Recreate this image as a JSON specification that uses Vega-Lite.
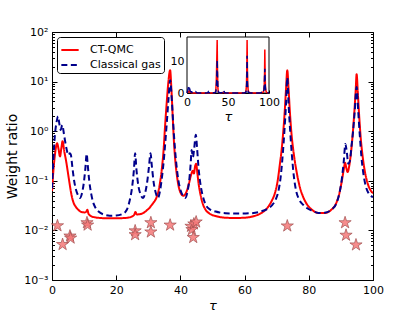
{
  "$schema": "https://vega.github.io/schema/vega-lite/v6.json",
  "width": 321,
  "height": 248,
  "autosize": "none",
  "padding": {"left": 52, "top": 32, "right": 42, "bottom": 32},
  "background": "white",
  "config": {
    "font": "DejaVu Sans",
    "view": {"stroke": "black", "strokeWidth": 1},
    "axis": {"labelFont": "DejaVu Sans", "labelFontSize": 11, "labelColor": "black", "tickColor": "black", "domainColor": "black", "grid": false, "titleFont": "DejaVu Sans", "titleColor": "black", "titleFontWeight": "normal", "labelFlush": false}
  },
  "datasets": {
    "curves": [
      {"t":0,"w":0.062,"s":"CT-QMC"},{"t":0.4,"w":0.15,"s":"CT-QMC"},{"t":0.9,"w":0.33,"s":"CT-QMC"},{"t":1.3,"w":0.5,"s":"CT-QMC"},{"t":1.6,"w":0.57,"s":"CT-QMC"},{"t":2.0,"w":0.45,"s":"CT-QMC"},{"t":2.5,"w":0.31,"s":"CT-QMC"},{"t":2.9,"w":0.45,"s":"CT-QMC"},{"t":3.3,"w":0.63,"s":"CT-QMC"},{"t":3.8,"w":0.4,"s":"CT-QMC"},{"t":4.4,"w":0.25,"s":"CT-QMC"},{"t":5.0,"w":0.14,"s":"CT-QMC"},{"t":5.4,"w":0.095,"s":"CT-QMC"},{"t":6.0,"w":0.055,"s":"CT-QMC"},{"t":6.6,"w":0.038,"s":"CT-QMC"},{"t":7.4,"w":0.03,"s":"CT-QMC"},{"t":8.2,"w":0.026,"s":"CT-QMC"},{"t":9.2,"w":0.0235,"s":"CT-QMC"},{"t":10.2,"w":0.023,"s":"CT-QMC"},{"t":10.7,"w":0.024,"s":"CT-QMC"},{"t":11.0,"w":0.026,"s":"CT-QMC"},{"t":11.4,"w":0.0215,"s":"CT-QMC"},{"t":12.3,"w":0.0192,"s":"CT-QMC"},{"t":13.5,"w":0.0183,"s":"CT-QMC"},{"t":15,"w":0.0178,"s":"CT-QMC"},{"t":18,"w":0.0175,"s":"CT-QMC"},{"t":21,"w":0.0176,"s":"CT-QMC"},{"t":23.5,"w":0.018,"s":"CT-QMC"},{"t":25,"w":0.0192,"s":"CT-QMC"},{"t":25.6,"w":0.0205,"s":"CT-QMC"},{"t":26.0,"w":0.0235,"s":"CT-QMC"},{"t":26.4,"w":0.021,"s":"CT-QMC"},{"t":27.2,"w":0.0212,"s":"CT-QMC"},{"t":28.5,"w":0.0225,"s":"CT-QMC"},{"t":29.7,"w":0.026,"s":"CT-QMC"},{"t":30.5,"w":0.029,"s":"CT-QMC"},{"t":30.8,"w":0.031,"s":"CT-QMC"},{"t":31.6,"w":0.036,"s":"CT-QMC"},{"t":32.6,"w":0.047,"s":"CT-QMC"},{"t":33.5,"w":0.08,"s":"CT-QMC"},{"t":34.2,"w":0.17,"s":"CT-QMC"},{"t":34.8,"w":0.45,"s":"CT-QMC"},{"t":35.2,"w":1.2,"s":"CT-QMC"},{"t":35.7,"w":3.5,"s":"CT-QMC"},{"t":36.2,"w":9,"s":"CT-QMC"},{"t":36.8,"w":17,"s":"CT-QMC"},{"t":37.2,"w":7,"s":"CT-QMC"},{"t":37.6,"w":2,"s":"CT-QMC"},{"t":38.0,"w":0.6,"s":"CT-QMC"},{"t":38.4,"w":0.26,"s":"CT-QMC"},{"t":38.9,"w":0.13,"s":"CT-QMC"},{"t":39.4,"w":0.08,"s":"CT-QMC"},{"t":40.2,"w":0.055,"s":"CT-QMC"},{"t":40.9,"w":0.05,"s":"CT-QMC"},{"t":41.8,"w":0.058,"s":"CT-QMC"},{"t":42.6,"w":0.085,"s":"CT-QMC"},{"t":43.3,"w":0.13,"s":"CT-QMC"},{"t":43.9,"w":0.16,"s":"CT-QMC"},{"t":44.2,"w":0.14,"s":"CT-QMC"},{"t":44.6,"w":0.2,"s":"CT-QMC"},{"t":44.9,"w":0.22,"s":"CT-QMC"},{"t":45.3,"w":0.14,"s":"CT-QMC"},{"t":45.7,"w":0.085,"s":"CT-QMC"},{"t":46.2,"w":0.055,"s":"CT-QMC"},{"t":47.0,"w":0.034,"s":"CT-QMC"},{"t":47.7,"w":0.027,"s":"CT-QMC"},{"t":49,"w":0.022,"s":"CT-QMC"},{"t":51,"w":0.0195,"s":"CT-QMC"},{"t":54,"w":0.018,"s":"CT-QMC"},{"t":57,"w":0.0178,"s":"CT-QMC"},{"t":60,"w":0.018,"s":"CT-QMC"},{"t":63,"w":0.0195,"s":"CT-QMC"},{"t":65,"w":0.022,"s":"CT-QMC"},{"t":67,"w":0.028,"s":"CT-QMC"},{"t":68.5,"w":0.04,"s":"CT-QMC"},{"t":69.5,"w":0.058,"s":"CT-QMC"},{"t":70.3,"w":0.1,"s":"CT-QMC"},{"t":71.0,"w":0.22,"s":"CT-QMC"},{"t":71.5,"w":0.4,"s":"CT-QMC"},{"t":72.0,"w":0.9,"s":"CT-QMC"},{"t":72.5,"w":2.5,"s":"CT-QMC"},{"t":72.9,"w":7,"s":"CT-QMC"},{"t":73.3,"w":17,"s":"CT-QMC"},{"t":73.7,"w":7,"s":"CT-QMC"},{"t":74.1,"w":2.5,"s":"CT-QMC"},{"t":74.6,"w":0.9,"s":"CT-QMC"},{"t":75.1,"w":0.45,"s":"CT-QMC"},{"t":75.6,"w":0.26,"s":"CT-QMC"},{"t":76.3,"w":0.14,"s":"CT-QMC"},{"t":77.2,"w":0.075,"s":"CT-QMC"},{"t":78.2,"w":0.048,"s":"CT-QMC"},{"t":79.5,"w":0.033,"s":"CT-QMC"},{"t":81,"w":0.026,"s":"CT-QMC"},{"t":83,"w":0.0225,"s":"CT-QMC"},{"t":85,"w":0.0225,"s":"CT-QMC"},{"t":87,"w":0.026,"s":"CT-QMC"},{"t":88.5,"w":0.035,"s":"CT-QMC"},{"t":89.5,"w":0.055,"s":"CT-QMC"},{"t":90.3,"w":0.1,"s":"CT-QMC"},{"t":90.9,"w":0.17,"s":"CT-QMC"},{"t":91.3,"w":0.23,"s":"CT-QMC"},{"t":91.7,"w":0.18,"s":"CT-QMC"},{"t":92.1,"w":0.15,"s":"CT-QMC"},{"t":92.6,"w":0.2,"s":"CT-QMC"},{"t":93.2,"w":0.4,"s":"CT-QMC"},{"t":93.7,"w":0.9,"s":"CT-QMC"},{"t":94.2,"w":2.5,"s":"CT-QMC"},{"t":94.6,"w":6.5,"s":"CT-QMC"},{"t":94.9,"w":14,"s":"CT-QMC"},{"t":95.3,"w":5.5,"s":"CT-QMC"},{"t":95.7,"w":2,"s":"CT-QMC"},{"t":96.2,"w":0.7,"s":"CT-QMC"},{"t":96.8,"w":0.3,"s":"CT-QMC"},{"t":97.5,"w":0.15,"s":"CT-QMC"},{"t":98.3,"w":0.09,"s":"CT-QMC"},{"t":99.2,"w":0.065,"s":"CT-QMC"},{"t":100,"w":0.056,"s":"CT-QMC"},
      {"t":0,"w":0.07,"s":"Classical gas"},{"t":0.4,"w":0.25,"s":"Classical gas"},{"t":0.9,"w":0.83,"s":"Classical gas"},{"t":1.4,"w":1.5,"s":"Classical gas"},{"t":1.9,"w":2.0,"s":"Classical gas"},{"t":2.3,"w":1.4,"s":"Classical gas"},{"t":2.7,"w":1.06,"s":"Classical gas"},{"t":3.2,"w":1.33,"s":"Classical gas"},{"t":3.7,"w":0.9,"s":"Classical gas"},{"t":4.1,"w":0.62,"s":"Classical gas"},{"t":4.6,"w":0.42,"s":"Classical gas"},{"t":5.1,"w":0.33,"s":"Classical gas"},{"t":5.6,"w":0.36,"s":"Classical gas"},{"t":5.9,"w":0.33,"s":"Classical gas"},{"t":6.3,"w":0.2,"s":"Classical gas"},{"t":6.8,"w":0.11,"s":"Classical gas"},{"t":7.5,"w":0.065,"s":"Classical gas"},{"t":8.2,"w":0.05,"s":"Classical gas"},{"t":8.7,"w":0.045,"s":"Classical gas"},{"t":9.3,"w":0.055,"s":"Classical gas"},{"t":9.9,"w":0.09,"s":"Classical gas"},{"t":10.4,"w":0.18,"s":"Classical gas"},{"t":10.8,"w":0.35,"s":"Classical gas"},{"t":11.1,"w":0.22,"s":"Classical gas"},{"t":11.6,"w":0.1,"s":"Classical gas"},{"t":12.2,"w":0.055,"s":"Classical gas"},{"t":12.8,"w":0.037,"s":"Classical gas"},{"t":13.5,"w":0.029,"s":"Classical gas"},{"t":14.5,"w":0.024,"s":"Classical gas"},{"t":16,"w":0.021,"s":"Classical gas"},{"t":18,"w":0.0198,"s":"Classical gas"},{"t":20,"w":0.02,"s":"Classical gas"},{"t":22,"w":0.0215,"s":"Classical gas"},{"t":23.3,"w":0.026,"s":"Classical gas"},{"t":24.2,"w":0.04,"s":"Classical gas"},{"t":24.9,"w":0.07,"s":"Classical gas"},{"t":25.5,"w":0.16,"s":"Classical gas"},{"t":25.9,"w":0.36,"s":"Classical gas"},{"t":26.3,"w":0.17,"s":"Classical gas"},{"t":26.9,"w":0.08,"s":"Classical gas"},{"t":27.6,"w":0.053,"s":"Classical gas"},{"t":28.4,"w":0.045,"s":"Classical gas"},{"t":29.1,"w":0.06,"s":"Classical gas"},{"t":29.7,"w":0.1,"s":"Classical gas"},{"t":30.2,"w":0.19,"s":"Classical gas"},{"t":30.7,"w":0.36,"s":"Classical gas"},{"t":31.1,"w":0.2,"s":"Classical gas"},{"t":31.7,"w":0.09,"s":"Classical gas"},{"t":32.4,"w":0.055,"s":"Classical gas"},{"t":33.0,"w":0.045,"s":"Classical gas"},{"t":33.6,"w":0.06,"s":"Classical gas"},{"t":34.2,"w":0.11,"s":"Classical gas"},{"t":34.8,"w":0.25,"s":"Classical gas"},{"t":35.3,"w":0.6,"s":"Classical gas"},{"t":35.8,"w":1.6,"s":"Classical gas"},{"t":36.3,"w":4.5,"s":"Classical gas"},{"t":36.8,"w":10.7,"s":"Classical gas"},{"t":37.3,"w":4.5,"s":"Classical gas"},{"t":37.8,"w":1.3,"s":"Classical gas"},{"t":38.3,"w":0.45,"s":"Classical gas"},{"t":38.8,"w":0.2,"s":"Classical gas"},{"t":39.4,"w":0.1,"s":"Classical gas"},{"t":40.1,"w":0.063,"s":"Classical gas"},{"t":40.8,"w":0.05,"s":"Classical gas"},{"t":41.5,"w":0.045,"s":"Classical gas"},{"t":42.2,"w":0.06,"s":"Classical gas"},{"t":42.8,"w":0.11,"s":"Classical gas"},{"t":43.2,"w":0.22,"s":"Classical gas"},{"t":43.5,"w":0.42,"s":"Classical gas"},{"t":43.9,"w":0.3,"s":"Classical gas"},{"t":44.3,"w":0.45,"s":"Classical gas"},{"t":44.8,"w":0.85,"s":"Classical gas"},{"t":45.2,"w":0.45,"s":"Classical gas"},{"t":45.6,"w":0.2,"s":"Classical gas"},{"t":46.1,"w":0.1,"s":"Classical gas"},{"t":46.8,"w":0.055,"s":"Classical gas"},{"t":47.7,"w":0.035,"s":"Classical gas"},{"t":49,"w":0.027,"s":"Classical gas"},{"t":51,"w":0.024,"s":"Classical gas"},{"t":54,"w":0.0222,"s":"Classical gas"},{"t":58,"w":0.0218,"s":"Classical gas"},{"t":62,"w":0.0222,"s":"Classical gas"},{"t":65,"w":0.024,"s":"Classical gas"},{"t":67,"w":0.027,"s":"Classical gas"},{"t":68.5,"w":0.032,"s":"Classical gas"},{"t":69.7,"w":0.042,"s":"Classical gas"},{"t":70.6,"w":0.065,"s":"Classical gas"},{"t":71.3,"w":0.13,"s":"Classical gas"},{"t":71.9,"w":0.35,"s":"Classical gas"},{"t":72.4,"w":1.0,"s":"Classical gas"},{"t":72.9,"w":3.5,"s":"Classical gas"},{"t":73.3,"w":12,"s":"Classical gas"},{"t":73.7,"w":3.5,"s":"Classical gas"},{"t":74.2,"w":1.0,"s":"Classical gas"},{"t":74.7,"w":0.35,"s":"Classical gas"},{"t":75.3,"w":0.13,"s":"Classical gas"},{"t":76.0,"w":0.065,"s":"Classical gas"},{"t":77.0,"w":0.042,"s":"Classical gas"},{"t":78.2,"w":0.033,"s":"Classical gas"},{"t":79.5,"w":0.028,"s":"Classical gas"},{"t":81,"w":0.025,"s":"Classical gas"},{"t":83,"w":0.0225,"s":"Classical gas"},{"t":85,"w":0.0228,"s":"Classical gas"},{"t":87,"w":0.026,"s":"Classical gas"},{"t":88.5,"w":0.034,"s":"Classical gas"},{"t":89.5,"w":0.055,"s":"Classical gas"},{"t":90.3,"w":0.11,"s":"Classical gas"},{"t":90.9,"w":0.25,"s":"Classical gas"},{"t":91.4,"w":0.55,"s":"Classical gas"},{"t":91.8,"w":0.4,"s":"Classical gas"},{"t":92.3,"w":0.22,"s":"Classical gas"},{"t":92.8,"w":0.25,"s":"Classical gas"},{"t":93.3,"w":0.5,"s":"Classical gas"},{"t":93.8,"w":1.0,"s":"Classical gas"},{"t":94.3,"w":2.5,"s":"Classical gas"},{"t":94.9,"w":7.8,"s":"Classical gas"},{"t":95.4,"w":2.5,"s":"Classical gas"},{"t":95.9,"w":0.8,"s":"Classical gas"},{"t":96.4,"w":0.3,"s":"Classical gas"},{"t":97.0,"w":0.14,"s":"Classical gas"},{"t":97.7,"w":0.08,"s":"Classical gas"},{"t":98.5,"w":0.058,"s":"Classical gas"},{"t":99.3,"w":0.05,"s":"Classical gas"},{"t":100,"w":0.047,"s":"Classical gas"}
    ],
    "stars": [
      {"t":1.7,"w":0.0124},{"t":3.3,"w":0.0052},{"t":5.6,"w":0.0077},{"t":5.8,"w":0.007},{"t":10.9,"w":0.0143},{"t":11.1,"w":0.0128},{"t":25.9,"w":0.0098},{"t":25.9,"w":0.0082},{"t":30.8,"w":0.0143},{"t":30.8,"w":0.0093},{"t":36.8,"w":0.0128},{"t":43.3,"w":0.0121},{"t":43.6,"w":0.0104},{"t":44.2,"w":0.0135},{"t":44.9,"w":0.0148},{"t":44.0,"w":0.0072},{"t":73.3,"w":0.0123},{"t":91.3,"w":0.0143},{"t":91.6,"w":0.008},{"t":94.7,"w":0.0051}
    ],
    "frame": [{"a":0,"b":100,"c":0,"d":18}]
  },
  "layer": [
    {
      "layer": [
        {
          "data": {"name": "curves"},
          "mark": {"type": "line", "strokeWidth": 2, "clip": true, "interpolate": "monotone"},
          "encoding": {
            "x": {"field": "t", "type": "quantitative", "scale": {"domain": [0, 100], "nice": false},
              "axis": {"orient": "bottom", "values": [0,20,40,60,80,100], "tickSize": -5, "labelPadding": 9, "labelFlush": false, "title": "τ", "titleFontSize": 13, "titleFontStyle": "italic", "titlePadding": 4}},
            "y": {"field": "w", "type": "quantitative", "scale": {"type": "log", "domain": [0.001, 100], "nice": false},
              "axis": {"orient": "left",
                "values": [0.001,0.002,0.003,0.004,0.005,0.006,0.007,0.008,0.009,0.01,0.02,0.03,0.04,0.05,0.06,0.07,0.08,0.09,0.1,0.2,0.3,0.4,0.5,0.6,0.7,0.8,0.9,1,2,3,4,5,6,7,8,9,10,20,30,40,50,60,70,80,90,100],
                "tickSize": {"condition": {"test": "abs(log(datum.value)/LN10 - round(log(datum.value)/LN10)) < 0.001", "value": -5}, "value": -2.5},
                "labelPadding": 9,
                "labelExpr": "abs(log(datum.value)/LN10 - round(log(datum.value)/LN10)) > 0.001 ? '' : datum.value >= 99 ? '10²' : datum.value >= 9 ? '10¹' : datum.value >= 0.9 ? '10⁰' : datum.value >= 0.09 ? '10⁻¹' : datum.value >= 0.009 ? '10⁻²' : '10⁻³'",
                "title": "Weight ratio", "titleFontSize": 14, "titlePadding": 4}},
            "color": {"field": "s", "type": "nominal", "scale": {"domain": ["CT-QMC", "Classical gas"], "range": ["#ff0000", "#00008b"]},
              "legend": {"orient": "none", "legendX": 5, "legendY": 5, "title": null, "strokeColor": "black", "fillColor": "white", "padding": 3, "cornerRadius": 3, "symbolType": "stroke", "symbolSize": 300, "symbolStrokeWidth": 2, "labelFontSize": 11, "labelFont": "DejaVu Sans", "rowPadding": -3, "labelOffset": 10, "offset": 0}},
            "strokeDash": {"field": "s", "type": "nominal", "scale": {"domain": ["CT-QMC", "Classical gas"], "range": [[1, 0], [6, 3.5]]}, "legend": {"orient": "none", "legendX": 5, "legendY": 5, "title": null, "strokeColor": "black", "fillColor": "white", "padding": 3, "cornerRadius": 3, "symbolType": "stroke", "symbolSize": 300, "symbolStrokeWidth": 2, "labelFontSize": 11, "labelFont": "DejaVu Sans", "rowPadding": -3, "labelOffset": 10, "offset": 0}}
          }
        },
        {
          "data": {"name": "stars"},
          "mark": {"type": "point", "shape": "M0,-1L0.2245,-0.309L0.9511,-0.309L0.3633,0.118L0.5878,0.809L0,0.382L-0.5878,0.809L-0.3633,0.118L-0.9511,-0.309L-0.2245,-0.309Z", "filled": true, "fill": "#f47878", "fillOpacity": 0.85, "stroke": "#a05050", "strokeWidth": 0.7, "size": 165},
          "encoding": {
            "x": {"field": "t", "type": "quantitative", "axis": {"orient": "top", "values": [0,20,40,60,80,100], "tickSize": -5, "labels": false, "title": null, "domain": false}},
            "y": {"field": "w", "type": "quantitative",
              "axis": {"orient": "right", "labels": false, "title": null, "domain": false,
                "values": [0.001,0.002,0.003,0.004,0.005,0.006,0.007,0.008,0.009,0.01,0.02,0.03,0.04,0.05,0.06,0.07,0.08,0.09,0.1,0.2,0.3,0.4,0.5,0.6,0.7,0.8,0.9,1,2,3,4,5,6,7,8,9,10,20,30,40,50,60,70,80,90,100],
                "tickSize": {"condition": {"test": "abs(log(datum.value)/LN10 - round(log(datum.value)/LN10)) < 0.001", "value": -5}, "value": -2.5}}}
          }
        }
      ],
      "resolve": {"axis": {"x": "independent", "y": "independent"}}
    },
    {
      "layer": [
        {
          "data": {"name": "frame"},
          "mark": {"type": "rect", "fill": "white", "stroke": "black", "strokeWidth": 1},
          "encoding": {
            "x": {"field": "a", "type": "quantitative", "scale": {"domain": [0, 100], "range": [135, 217], "nice": false},
              "axis": {"orient": "bottom", "offset": -187, "values": [0, 50, 100], "tickSize": -3, "labelPadding": 6, "labelFlush": false, "title": "τ", "titleFontSize": 13, "titleFontStyle": "italic", "titlePadding": 3}},
            "x2": {"field": "b"},
            "y": {"field": "c", "type": "quantitative", "scale": {"domain": [0, 18], "range": [61, 5], "nice": false},
              "axis": {"orient": "left", "offset": -135, "values": [0, 10], "tickSize": -3, "labelPadding": 6, "title": null}},
            "y2": {"field": "d"}
          }
        },
        {
          "data": {"name": "curves"},
          "mark": {"type": "line", "strokeWidth": 1.5},
          "encoding": {
            "x": {"field": "t", "type": "quantitative"},
            "y": {"field": "w", "type": "quantitative"},
            "color": {"field": "s", "type": "nominal", "legend": null},
            "strokeDash": {"field": "s", "type": "nominal", "legend": null}
          }
        }
      ]
    }
  ],
  "resolve": {"scale": {"x": "independent", "y": "independent"}, "axis": {"x": "independent", "y": "independent"}}
}
